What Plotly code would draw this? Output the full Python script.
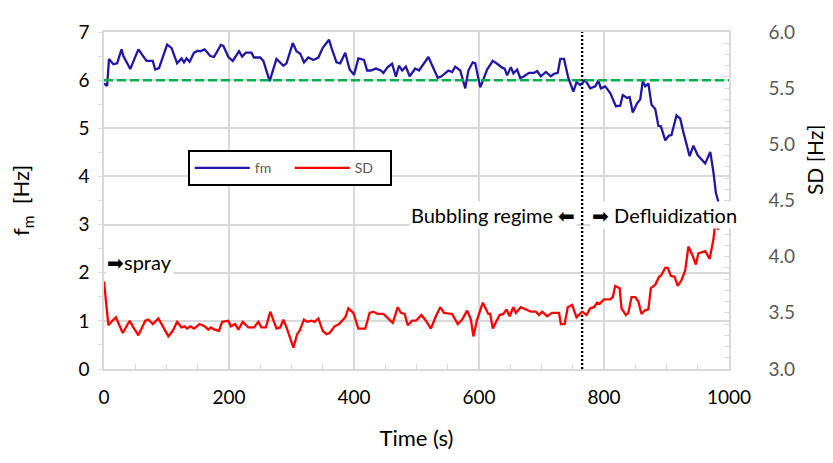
import plotly.graph_objects as go

# ---------------- data ----------------
t_fm = [0, 5, 8, 15, 21, 28, 31, 42, 55, 66, 68, 78, 82, 88, 101, 108, 117, 124, 128, 132,
        137, 144, 150, 154, 161, 170, 176, 187, 191, 199, 206, 216, 221, 227, 236, 240, 250, 255, 265, 276,
        287, 292, 302, 308, 314, 320, 327, 335, 343, 350, 360, 364, 372, 378, 386, 393, 400, 407, 416, 421,
        427, 435, 443, 447, 454, 461, 467, 472, 477, 483, 489, 498, 504, 519, 534, 540, 551, 557, 562, 570,
        578, 583, 590, 594, 602, 613, 622, 629, 637, 641, 645, 651, 655, 661, 666, 672, 680, 688, 693, 699,
        707, 715, 720, 726, 730, 736, 743, 751, 756, 762, 770, 778, 786, 791, 795, 802, 810, 819, 826, 830,
        837, 841, 846, 853, 858, 862, 866, 871, 876, 882, 887, 891, 898, 904, 908, 916, 922, 927, 934, 937,
        943, 950, 962, 970, 975, 979, 983]
fm = [5.93, 5.88, 6.44, 6.33, 6.35, 6.64, 6.50, 6.23, 6.64, 6.42, 6.40, 6.40, 6.22, 6.25, 6.74, 6.67, 6.35, 6.45, 6.37, 6.45,
      6.38, 6.57, 6.61, 6.60, 6.64, 6.50, 6.48, 6.73, 6.71, 6.48, 6.40, 6.60, 6.49, 6.57, 6.57, 6.47, 6.47, 6.40, 5.98, 6.44,
      6.30, 6.35, 6.77, 6.60, 6.55, 6.37, 6.47, 6.42, 6.47, 6.67, 6.84, 6.67, 6.37, 6.35, 6.57, 6.22, 6.11, 6.45, 6.42, 6.20,
      6.20, 6.24, 6.20, 6.15, 6.27, 6.34, 6.07, 6.30, 6.20, 6.28, 6.08, 6.24, 6.20, 6.48, 6.05, 6.08, 6.20, 6.17, 6.28, 6.20,
      5.83, 6.20, 6.37, 6.35, 5.85, 6.22, 6.40, 6.34, 6.26, 6.24, 6.10, 6.27, 6.14, 6.22, 6.04, 6.08, 6.15, 6.15, 6.19, 6.08,
      6.17, 6.08, 6.13, 6.15, 6.44, 6.44, 6.04, 5.76, 5.96, 5.90, 6.00, 5.83, 5.87, 5.99, 5.83, 5.87, 5.73, 5.46, 5.47, 5.69,
      5.63, 5.65, 5.33, 5.52, 5.60, 5.98, 5.87, 5.93, 5.49, 5.40, 5.05, 5.04, 4.75, 4.85, 4.86, 5.27, 5.20, 4.92, 4.60, 4.42,
      4.64, 4.44, 4.27, 4.51, 4.10, 3.66, 3.47]

t_sd = [0, 7, 12, 19, 30, 41, 47, 55, 66, 71, 78, 87, 103, 110, 117, 124, 129, 133, 138, 144,
        153, 161, 167, 171, 177, 184, 189, 199, 203, 210, 215, 222, 231, 240, 247, 252, 259, 266, 276, 282,
        287, 292, 303, 309, 313, 320, 325, 332, 337, 343, 350, 356, 361, 369, 376, 386, 391, 399, 407, 418,
        425, 431, 438, 447, 462, 470, 475, 481, 486, 493, 499, 508, 515, 523, 531, 538, 544, 552, 557, 566,
        573, 581, 587, 591, 597, 606, 615, 618, 622, 633, 639, 644, 649, 655, 659, 667, 675, 683, 691, 696,
        701, 709, 717, 728, 731, 737, 742, 749, 756, 765, 772, 778, 784, 789, 793, 800, 810, 814, 818, 825,
        828, 835, 839, 844, 850, 855, 860, 865, 871, 875, 882, 888, 891, 898, 902, 907, 913, 918, 924, 930,
        935, 941, 947, 951, 962, 969, 975, 978, 983]
sd = [3.78, 3.39, 3.42, 3.46, 3.32, 3.43, 3.37, 3.30, 3.43, 3.44, 3.40, 3.45, 3.29, 3.34, 3.42, 3.37, 3.38, 3.36, 3.38, 3.36,
      3.40, 3.38, 3.35, 3.37, 3.35, 3.34, 3.42, 3.43, 3.38, 3.40, 3.35, 3.42, 3.37, 3.37, 3.42, 3.37, 3.37, 3.51, 3.36, 3.37,
      3.44, 3.37, 3.19, 3.31, 3.34, 3.44, 3.42, 3.43, 3.42, 3.45, 3.34, 3.31, 3.32, 3.38, 3.40, 3.46, 3.54, 3.50, 3.36, 3.36,
      3.50, 3.51, 3.49, 3.49, 3.41, 3.55, 3.50, 3.49, 3.39, 3.43, 3.43, 3.48, 3.43, 3.36, 3.47, 3.55, 3.50, 3.49, 3.49, 3.40,
      3.44, 3.52, 3.44, 3.29, 3.44, 3.59, 3.49, 3.49, 3.36, 3.48, 3.49, 3.53, 3.47, 3.55, 3.50, 3.55, 3.53, 3.51, 3.51, 3.48,
      3.51, 3.47, 3.50, 3.50, 3.40, 3.40, 3.55, 3.57, 3.46, 3.51, 3.48, 3.54, 3.55, 3.59, 3.58, 3.62, 3.62, 3.64, 3.74, 3.72,
      3.54, 3.48, 3.50, 3.64, 3.64, 3.60, 3.49, 3.52, 3.53, 3.72, 3.75, 3.82, 3.83, 3.90, 3.90, 3.83, 3.82, 3.74, 3.79, 3.88,
      4.09, 4.02, 3.93, 4.03, 4.05, 3.98, 4.15, 4.30, 4.24]

fm_threshold_t = [0, 1000]
fm_threshold = [6, 6]
regime_boundary_t = [765, 765]
regime_boundary_y = [0, 7]

x_ticks = [0, 200, 400, 600, 800, 1000]
y_left_ticks = [0, 1, 2, 3, 4, 5, 6, 7]
y_right_ticks = [3.0, 3.5, 4.0, 4.5, 5.0, 5.5, 6.0]

FONT = "Lato"
GRID = "#d9d9d9"

fig = go.Figure()
fig.add_trace(go.Scatter(x=t_fm, y=fm, mode="lines", name="fm",
                         line=dict(color="#2116a6", width=2.3)))
fig.add_trace(go.Scatter(x=t_sd, y=sd, mode="lines", name="SD", yaxis="y2",
                         line=dict(color="#ff0000", width=2.3)))
fig.add_trace(go.Scatter(x=fm_threshold_t, y=fm_threshold, mode="lines", showlegend=False,
                         line=dict(color="#00b050", width=2.5, dash="9px,4px"), cliponaxis=False))
fig.add_trace(go.Scatter(x=regime_boundary_t, y=regime_boundary_y, mode="lines", showlegend=False,
                         line=dict(color="black", width=2.4, dash="2px,2px")))

# page body has an 8px default margin, so the figure is drawn 8px smaller and shifted
fig.update_layout(
    width=825, height=455,
    margin=dict(l=96, r=104, t=16, b=94),
    paper_bgcolor="white", plot_bgcolor="white",
    font=dict(family=FONT, size=19, color="black"),
    showlegend=True,
    legend=dict(orientation="h", x=0.134, y=0.649, xanchor="left", yanchor="top",
                bgcolor="white", bordercolor="black", borderwidth=2,
                font=dict(size=14, color="#595959"), itemwidth=55,
                entrywidth=30, tracegroupgap=0),
    xaxis=dict(range=[0, 1000], tickvals=x_ticks, showgrid=True, gridcolor=GRID, gridwidth=1.5,
               showline=True, linecolor=GRID, linewidth=1.5, mirror=True, zeroline=False,
               ticks="inside", ticklen=5, tickcolor=GRID, ticklabelstandoff=10,
               minor=dict(dtick=50, ticks="inside", ticklen=5, tickcolor=GRID, showgrid=False),
               title=dict(text="Time (s)", font=dict(size=22), standoff=24)),
    yaxis=dict(range=[0, 7], tickvals=y_left_ticks, showgrid=True, gridcolor=GRID, gridwidth=1.5,
               showline=True, linecolor=GRID, linewidth=1.5, zeroline=False,
               ticks="outside", ticklen=4, tickcolor=GRID, ticklabelstandoff=5,
               minor=dict(dtick=0.5, ticks="outside", ticklen=4, tickcolor=GRID, showgrid=False)),
    yaxis2=dict(range=[3, 6], tickvals=y_right_ticks, tickformat=".1f", overlaying="y", side="right",
                showgrid=False, showline=True, linecolor=GRID, linewidth=1.5, zeroline=False,
                ticks="inside", ticklen=5, tickcolor=GRID, ticklabelstandoff=34,
                tickfont=dict(color="#595959"),
                minor=dict(dtick=0.1, ticks="inside", ticklen=5, tickcolor=GRID, showgrid=False)),
)

annots = [
    dict(text="f<sub>m</sub>  [Hz]", xref="paper", yref="paper", x=-0.132, y=0.5,
         textangle=-90, showarrow=False, font=dict(size=22), xanchor="center", yanchor="middle"),
    dict(text="SD [Hz]", xref="paper", yref="paper", x=1.136, y=0.62,
         textangle=-90, showarrow=False, font=dict(size=21), xanchor="center", yanchor="middle"),
    dict(text="Bubbling regime ⬅", x=757, y=3.2, xref="x", yref="y", showarrow=False,
         xanchor="right", yanchor="middle", bgcolor="white", font=dict(size=20)),
    dict(text="➡ Defluidization", x=777, y=3.2, xref="x", yref="y", showarrow=False,
         xanchor="left", yanchor="middle", bgcolor="white", font=dict(size=20)),
    dict(text="➡spray", x=2, y=2.22, xref="x", yref="y", showarrow=False,
         xanchor="left", yanchor="middle", bgcolor="white", font=dict(size=20)),
]
fig.update_layout(annotations=annots)

fig.write_html("out.html")
